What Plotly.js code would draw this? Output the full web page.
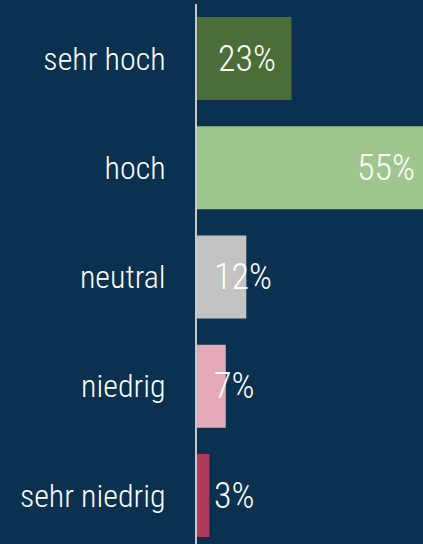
<!DOCTYPE html>
<html>
<head>
<meta charset="utf-8">
<script src="https://cdn.plot.ly/plotly-3.0.1.min.js"></script>
<style>
  html, body { margin: 0; padding: 0; background: #0a3250; }
  #chart { width: 423px; height: 544px; }
</style>
</head>
<body>
<div id="chart"></div>
<script>
var categories = ['sehr hoch', 'hoch', 'neutral', 'niedrig', 'sehr niedrig'];
var values = [23, 55, 12, 7, 3];
var colors = ['#4b6e39', '#9fc78d', '#c3c3c3', '#e6a9b8', '#b03a5c'];

var fontFamily = 'Roboto Condensed, Liberation Sans Narrow, Roboto, sans-serif';

var trace = {
    type: 'bar',
    orientation: 'h',
    x: values,
    y: categories,
    marker: { color: colors },
    hoverinfo: 'skip'
};

// Prozentwerte als Annotationen, damit kleine Balken die Beschriftung rechts daneben zeigen
var annotations = values.map(function (v, i) {
    var a = {
        x: v,
        y: categories[i],
        text: v + '%',
        showarrow: false,
        font: { family: fontFamily, size: 36, weight: 350, color: '#ffffff' }
    };
    if (v > 40) {
        a.xanchor = 'right';
        a.xshift = -6;
    } else if (v >= 20) {
        a.x = v / 2;
        a.xanchor = 'center';
        a.xshift = 3;
    } else {
        a.x = 0;
        a.xanchor = 'left';
        a.xshift = 15;
    }
    return a;
});

var layout = {
    width: 423,
    height: 544,
    margin: { l: 197, r: 0, t: 4, b: 0 },
    paper_bgcolor: '#0a3250',
    plot_bgcolor: '#0a3250',
    bargap: 0.24,
    showlegend: false,
    xaxis: {
        range: [0, 55],
        visible: false,
        fixedrange: true
    },
    yaxis: {
        type: 'category',
        range: [4.444, -0.499],
        showline: true,
        linecolor: '#c8c8c8',
        linewidth: 2,
        showgrid: false,
        ticks: '',
        ticklabelstandoff: 23,
        tickfont: { family: fontFamily, size: 32, weight: 350, color: '#ffffff' },
        fixedrange: true
    },
    annotations: annotations
};

Plotly.newPlot('chart', [trace], layout, { displayModeBar: false, staticPlot: true });
</script>
</body>
</html>
